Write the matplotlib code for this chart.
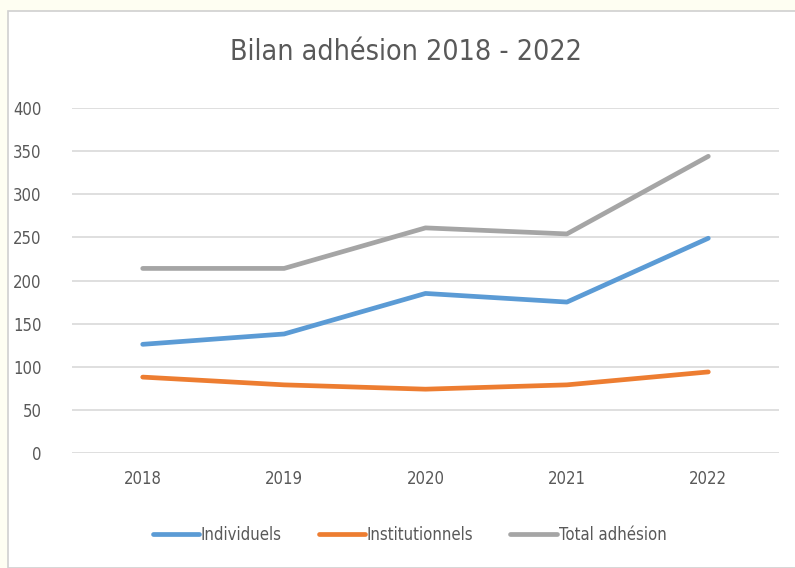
import matplotlib.pyplot as plt
from matplotlib.patches import Rectangle

# data
years = ["2018", "2019", "2020", "2021", "2022"]
individuels = [126, 138, 185, 175, 249]
institutionnels = [88, 79, 74, 79, 94]
total_adhesion = [214, 214, 261, 254, 344]
y_ticks = [0, 50, 100, 150, 200, 250, 300, 350, 400]

plt.rcParams["font.family"] = ["DejaVu Sans"]
plt.rcParams["font.stretch"] = "condensed"

W, H = 795, 568
fig = plt.figure(figsize=(W / 100, H / 100), dpi=100)
fig.patch.set_facecolor("#fefef2")

# white chart box with thin grey border
fig.patches.append(Rectangle((8 / W, 0), 1, 1 - 11 / H, transform=fig.transFigure,
                             facecolor="white", edgecolor="#d0d0d0", linewidth=1.2, zorder=0))

ax = fig.add_axes([72 / W, (H - 453) / H, (779 - 72) / W, (453 - 108) / H])
ax.set_zorder(2)
ax.set_facecolor("none")

x = list(range(len(years)))
ax.plot(x, individuels, color="#5b9bd5", linewidth=3.4, label="Individuels", solid_capstyle="round")
ax.plot(x, institutionnels, color="#ed7d31", linewidth=3.4, label="Institutionnels", solid_capstyle="round")
ax.plot(x, total_adhesion, color="#a5a5a5", linewidth=3.4, label="Total adhésion", solid_capstyle="round")

ax.set_xlim(-0.5, len(years) - 0.5)
ax.set_ylim(0, 400)
ax.set_yticks(y_ticks)
ax.set_xticks(x)
ax.set_xticklabels(years)
ax.grid(axis="y", color="#d9d9d9", linewidth=1.2)
ax.set_axisbelow(True)
for s in ax.spines.values():
    s.set_visible(False)
ax.tick_params(length=0, labelsize=12, colors="#595959")
ax.tick_params(axis="y", pad=22)
ax.tick_params(axis="x", pad=12)

fig.text(0.51, 1 - 52 / H, "Bilan adhésion 2018 - 2022", ha="center", va="center",
         fontsize=20.5, color="#595959")

leg = fig.legend(loc="center", bbox_to_anchor=(0.515, 1 - 535 / H), ncol=3, frameon=False,
                 fontsize=12, labelcolor="#595959", handlelength=2.8, handletextpad=0.1,
                 columnspacing=2.2)
leg.set_zorder(3)

fig.savefig("out.png", dpi=100, facecolor=fig.get_facecolor())
